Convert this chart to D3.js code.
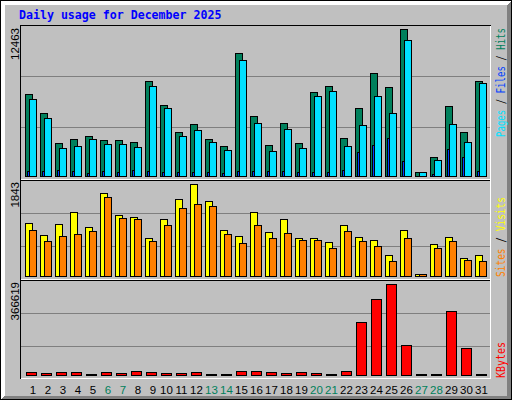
<!DOCTYPE html>
<html><head><meta charset="utf-8">
<script src="https://cdn.jsdelivr.net/npm/d3@7"></script>
<style>html,body{margin:0;padding:0;background:#fff;} svg{display:block;}</style>
</head><body>
<svg id="chart" width="512" height="400"></svg>
<script>
// ---- data ----
const title = "Daily usage for December 2025";
const days = d3.range(1, 32);
const weekends = [6, 7, 13, 14, 20, 21, 27, 28];
const hits   = [6952,5341,2798,3137,3391,3052,3052,2883,8054,6020,3730,4409,3137,2543,10428,5087,2628,4493,2798,7122,7630,3222,5765,8733,7546,12463,339,1611,5935,3730,8060];
const files  = [424,424,509,424,254,424,339,509,424,339,339,339,339,254,424,424,424,424,339,339,339,509,2035,2628,3222,1272,0,170,2289,1611,424];
const pages  = [6528,4917,2374,2543,3137,2713,2713,2459,7630,5765,3391,3900,2883,2204,9835,4493,2120,3985,2374,6783,7206,2543,4324,6783,5341,11530,339,1357,4409,2883,7885];
const visits = [1062,821,1042,1282,981,1663,1222,1182,761,1142,1542,1843,1502,921,801,1282,881,1142,761,761,681,1022,781,721,421,921,40,641,781,361,421];
const sites  = [921,701,801,841,901,1582,1162,1142,701,1022,1362,1442,1402,841,661,1022,761,861,721,721,561,901,701,601,300,761,40,561,701,320,300];
const kbytes = [12086,8058,12086,12086,4029,12086,8058,16115,12086,8058,8058,12086,4029,4029,16115,16115,12086,8058,12086,8058,4029,16115,213530,306189,366619,120864,4029,4029,257843,108778,4029];

// ---- colours ----
const C = {bg:"#c0c0c0", dark:"#808080", grid:"#7f7f7f", hit:"#00805c", file:"#0040ff", page:"#00e0ff",
           visit:"#ffff00", site:"#ff8000", kbyte:"#ff0000", title:"#0000ff"};

const svg = d3.select("#chart").attr("shape-rendering", "crispEdges");

// background & bevel
svg.append("rect").attr("x",0).attr("y",0).attr("width",512).attr("height",400).attr("fill",C.bg);
svg.append("polygon").attr("points","1,1 511,1 507,5 5,5 5,396 1,399").attr("fill","#fff");
svg.append("polygon").attr("points","511,1 511,399 1,399 5,396 507,396 507,5").attr("fill",C.dark);
svg.append("rect").attr("x",0.5).attr("y",0.5).attr("width",511).attr("height",399)
   .attr("fill","none").attr("stroke","#000");

// scales
const x = d3.scaleBand().domain(days).range([25, 490]).paddingInner(0).paddingOuter(0).align(0);
const yHits = d3.scaleLinear().domain([0, d3.max(hits)]).range([176, 29]);
const yVis  = d3.scaleLinear().domain([0, d3.max(visits)]).range([276, 184]);
const yKb   = d3.scaleLinear().domain([0, d3.max(kbytes)]).range([375, 284]);

// grid lines
const gridY = [76, 127, 213, 246, 313, 346];
svg.append("g").selectAll("line").data(gridY).join("line")
  .attr("x1",21).attr("x2",490).attr("y1",d=>d+0.5).attr("y2",d=>d+0.5)
  .attr("stroke",C.grid);

// panel frame
function hline(y, x1, x2, col){ svg.append("line").attr("x1",x1).attr("x2",x2).attr("y1",y+0.5).attr("y2",y+0.5).attr("stroke",col); }
function vline(xx, y1, y2, col){ svg.append("line").attr("x1",xx+0.5).attr("x2",xx+0.5).attr("y1",y1).attr("y2",y2).attr("stroke",col); }
hline(25, 20, 491, "#000");
vline(20, 25, 379, "#000");
vline(490, 26, 379, "#fff");
hline(378, 21, 491, "#fff");
hline(179, 21, 490, "#fff");
hline(180, 21, 490, "#000");
hline(279, 21, 490, "#fff");
hline(280, 21, 490, "#000");

// bars
function bars(data, yScale, base, off, w, col){
  const g = svg.append("g");
  g.selectAll("rect").data(days.map((d,i)=>({d, v:data[i]})).filter(o=>o.v>0)).join("rect")
    .attr("x", o => x(o.d) + off + 0.5)
    .attr("width", w)
    .attr("y", o => Math.round(yScale(o.v)) + 0.5)
    .attr("height", o => Math.max(1, base - Math.round(yScale(o.v))))
    .attr("fill", col).attr("stroke", "#000");
}
bars(hits,  yHits, 176, 0, 7, C.hit);
bars(files, yHits, 176, 2, 7, C.file);
bars(pages, yHits, 176, 4, 7, C.page);
bars(visits, yVis, 276, 0, 7, C.visit);
bars(sites,  yVis, 276, 4, 7, C.site);
bars(kbytes, yKb, 375, 1, 10, C.kbyte);

// title
svg.append("text").attr("x",19).attr("y",19)
  .attr("font-family","'DejaVu Sans Mono', monospace").attr("font-weight","bold")
  .attr("font-size","11.6px").attr("fill",C.title).text(title);

// max labels (rotated)
const maxLabels = [[d3.max(hits), 28], [d3.max(visits), 182], [d3.max(kbytes), 282]];
maxLabels.forEach(([v, y]) => {
  svg.append("text").attr("transform", `translate(19,${y}) rotate(-90)`)
    .attr("text-anchor","end").attr("font-family","'Liberation Sans', Arial, sans-serif")
    .attr("font-size","11.5px").attr("fill","#000").text(String(v));
});

// x labels
svg.append("g").selectAll("text").data(days).join("text")
  .attr("x", d => x(d) + (d < 10 ? 8 : 6.5))
  .attr("y", 394)
  .attr("text-anchor","middle")
  .attr("font-family","'Liberation Sans', Arial, sans-serif")
  .attr("font-size","11.5px")
  .attr("fill", d => weekends.includes(d) ? C.hit : "#000")
  .text(d => d);

// right legends
function legend(parts, bottom, len){
  const t = svg.append("text").attr("transform", `translate(505,${bottom}) rotate(-90)`)
    .attr("font-family","'DejaVu Sans Mono', monospace").attr("font-size","12px")
    .attr("textLength", len).attr("lengthAdjust","spacingAndGlyphs");
  parts.forEach(([s,c]) => t.append("tspan").attr("fill",c).text(s));
}
legend([["Pages",C.page],[" / ","#000"],["Files",C.file],[" / ","#000"],["Hits",C.hit]], 137, 109);
legend([["Sites",C.site],[" / ","#000"],["Visits",C.visit]], 277, 80);
legend([["KBytes",C.kbyte]], 378, 36);
</script>
</body></html>
